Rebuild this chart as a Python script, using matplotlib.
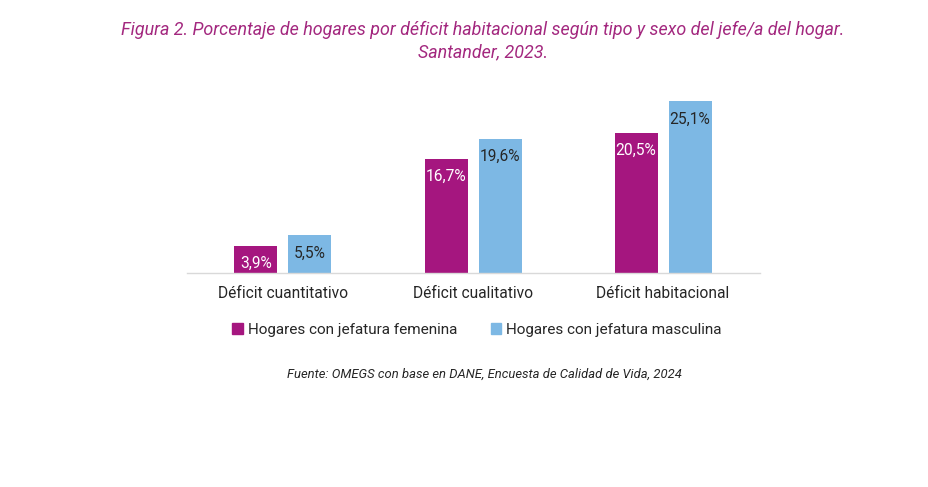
import matplotlib
matplotlib.use("Agg")
import matplotlib.pyplot as plt
import numpy as np
from matplotlib.patches import Patch

categories = ["Déficit cuantitativo", "Déficit cualitativo", "Déficit habitacional"]
femenina = [3.9, 16.7, 20.5]
masculina = [5.5, 19.6, 25.1]
series_names = ["Hogares con jefatura femenina", "Hogares con jefatura masculina"]

c_fem = "#A5167F"
c_mas = "#7DB8E4"
title_color = "#A3287F"

plt.rcParams['font.family'] = ['Roboto', 'DejaVu Sans']

fig = plt.figure(figsize=(9.29, 4.87), dpi=100)
ax = fig.add_axes([187/929, 1-273/487, 573/929, 185/487])

x = np.arange(len(categories))
bw = 43/190
off = 27/190
b1 = ax.bar(x - off, femenina, bw, color=c_fem)
b2 = ax.bar(x + off, masculina, bw, color=c_mas)

ax.set_xlim(-0.505, 2.51)
ax.set_ylim(0, 27)
for s in ["top", "right", "left"]:
    ax.spines[s].set_visible(False)
ax.spines["bottom"].set_color("#d9d9d9")
ax.spines["bottom"].set_linewidth(1)
ax.set_yticks([])
ax.set_xticks(x)
ax.set_xticklabels(categories, fontsize=11.2, color="#262626")
ax.tick_params(axis="x", length=0, pad=9)

def fmt(v):
    return f"{v:.1f}%".replace(".", ",")

for bars, vals, tc in [(b1, femenina, "white"), (b2, masculina, "#262626")]:
    for rect, v in zip(bars, vals):
        d = min(2.6, v / 2 + 0.6)
        ax.text(rect.get_x() + rect.get_width()/2, v - d, fmt(v),
                ha="center", va="center", fontsize=11.2, color=tc)

fig.text(483/929, 1-30/487, "Figura 2. Porcentaje de hogares por déficit habitacional según tipo y sexo del jefe/a del hogar.",
         ha="center", va="center", fontsize=12.9, style="italic", color=title_color)
fig.text(483/929, 1-52/487, "Santander, 2023.", ha="center", va="center",
         fontsize=12.9, style="italic", color=title_color)

handles = [Patch(color=c_fem), Patch(color=c_mas)]
fig.legend(handles, series_names, loc="center", bbox_to_anchor=(477/929, 1-330/487),
           ncol=2, frameon=False, fontsize=11.0, handlelength=0.7, handleheight=0.7,
           handletextpad=0.3, columnspacing=2.2, labelcolor="#262626")

fig.text(484/929, 1-374/487, "Fuente: OMEGS con base en DANE, Encuesta de Calidad de Vida, 2024",
         ha="center", va="center", fontsize=9.4, style="italic", color="#262626")

fig.savefig("out.png", dpi=100, facecolor="white")
